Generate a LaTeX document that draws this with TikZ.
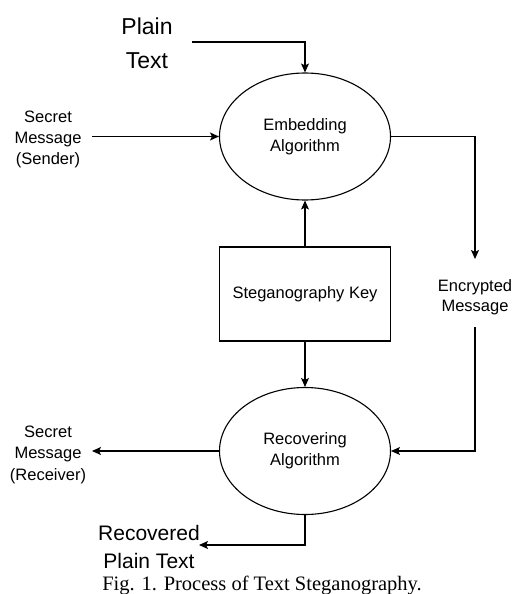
\documentclass[tikz,border=0pt]{standalone}
\usepackage{fontspec}
\setmainfont{Liberation Sans}
\newfontfamily\capfont{Liberation Serif}
\usetikzlibrary{shapes.geometric,arrows.meta}
\begin{document}
\begin{tikzpicture}[x=1pt,y=-1pt,
  line/.style={line width=1.2pt, draw=black},
  arr/.style={line, -{Stealth[length=9pt,width=8pt,inset=2pt]}},
  proc/.style={ellipse, draw, line width=1.1pt, minimum width=171pt, minimum height=127pt, inner sep=0pt, align=center, font=\fontsize{16.5}{21}\selectfont},
  keybox/.style={rectangle, draw, line width=1.1pt, minimum width=171pt, minimum height=94pt, inner sep=0pt, align=center, font=\fontsize{16.5}{21}\selectfont},
  lbl/.style={align=center, inner sep=0pt, anchor=base, font=\fontsize{16.5}{21}\selectfont},
  biglbl/.style={align=center, inner sep=0pt, anchor=base}
]
\useasboundingbox (0,0) rectangle (516,594);

% nodes
\node[proc] (emb) at (305,136.5) {Embedding\\Algorithm};
\node[keybox] (key) at (305,294) {Steganography Key};
\node[proc] (rec) at (305,451) {Recovering\\Algorithm};

\node[biglbl, font=\fontsize{23}{33}\selectfont] (pt) at (147,68) {Plain\\Text};
\node[lbl] (snd) at (48,164) {Secret\\Message\\(Sender)};
\node[lbl, font=\fontsize{16.5}{20}\selectfont] (enc) at (475,311) {Encrypted\\Message};
\node[lbl, font=\fontsize{16.5}{21.5}\selectfont] (rcv) at (48,480) {Secret\\Message\\(Receiver)};
\node[biglbl, font=\fontsize{21}{28}\selectfont] (rpt) at (149,568) {Recovered\\Plain Text};
\node[inner sep=0pt, anchor=base, font=\capfont\fontsize{20.5}{24}\selectfont] (cap) at (262,590) {Fig. 1. Process of Text Steganography.};

% connector end points
\coordinate (ptout) at (192,42);
\coordinate (sndout) at (92,136.5);
\coordinate (encin) at (475,259);
\coordinate (encout) at (475,327);
\coordinate (rcvin) at (92,451);
\coordinate (rptin) at (199,545);

% connectors
\draw[arr] (ptout) -| (emb.north);
\draw[arr] (sndout) -- (emb.west);
\draw[arr] (emb.east) -| (encin);
\draw[arr] (encout) |- (rec.east);
\draw[arr] (key.north) -- (emb.south);
\draw[arr] (key.south) -- (rec.north);
\draw[arr] (rec.west) -- (rcvin);
\draw[arr] (rec.south) |- (rptin);
\end{tikzpicture}
\end{document}
